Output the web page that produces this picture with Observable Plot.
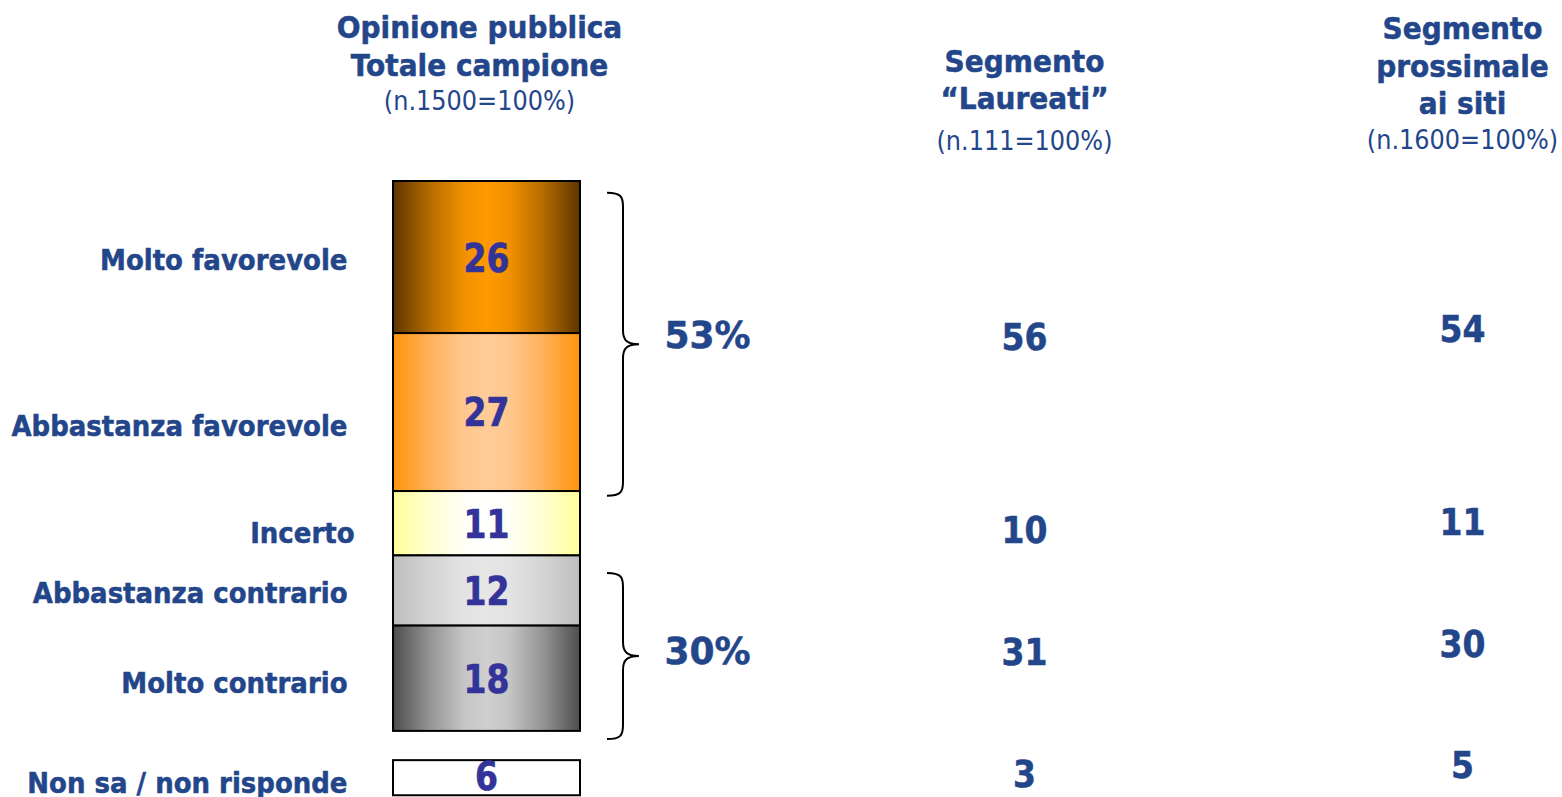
<!DOCTYPE html>
<html><head><meta charset="utf-8">
<script src="https://cdn.jsdelivr.net/npm/d3@7"></script>
<script src="https://cdn.jsdelivr.net/npm/@observablehq/plot@0.6"></script>
<style>html,body{margin:0;padding:0;background:#fff;overflow:hidden}</style>
</head><body><div id="chart"></div>
<script>
// ---------- data ----------
const categories = ["Molto favorevole", "Abbastanza favorevole", "Incerto", "Abbastanza contrario", "Molto contrario", "Non sa / non risponde"];
const totale = [26, 27, 11, 12, 18, 6];
const groups = ["Favorevoli", "Incerto", "Contrari", "Non sa"];
const groupMembers = [[0, 1], [2], [3, 4], [5]];
const groupTotale = [53, 11, 30, 6];
const laureati = [56, 10, 31, 3];
const siti = [54, 11, 30, 5];
const bracketGroups = [0, 2];
const headerTotale = ["Opinione pubblica", "Totale campione"];
const subTotale = "(n.1500=100%)";
const headerLaureati = ["Segmento", "\u201cLaureati\u201d"];
const subLaureati = "(n.111=100%)";
const headerSiti = ["Segmento", "prossimale", "ai siti"];
const subSiti = "(n.1600=100%)";

// ---------- layout & style ----------
const W = 1562, H = 797;
const barTopPx = 181, pxPerUnit = 5.85, gapBeforeLast = 5;
const colX = {labels: 347, barL: 393, barR: 580, barC: 486, braceL: 607, braceM: 623, braceT: 639, pct: 664, laureati: 1024, siti: 1462, totHead: 479};
// [edge colour, centre colour] of each segment's horizontal gradient
const gradColors = [
  ["#5c3600", "#ff9900"],
  ["#ff930c", "#ffcc99"],
  ["#ffff99", "#ffffff"],
  ["#bdbdbd", "#e6e6e6"],
  ["#4d4d4d", "#cfcfcf"],
  ["#ffffff", "#ffffff"]
];
// pixel nudges relative to the centre of each segment / group
const labelNudge = [[0, 3], [0, 14], [7, 10], [0, 2.5], [0, 5], [0, 6]];
const barNumNudge = [2, 1, 1.5, 1.5, 2, -1];
const braceInset = [[2, 0.8], [3, 1.4]];
const pctNudge = [-1, 8.5];
const laureatiNudge = [1, 7.5, 9.5, -3.5];
const sitiNudge = [-7, -0.5, 1.5, -12.5];
const navy = "#23468a", numBlue = "#333399";
const font = "DejaVu Sans, Verdana, sans-serif";

// ---------- derived ----------
let acc = 0;
const segs = categories.map((c, i) => {
  if (i === categories.length - 1) acc += gapBeforeLast;
  const s = {i, cat: c, value: totale[i], y1: acc, y2: acc + totale[i], yc: acc + totale[i] / 2};
  acc += totale[i];
  return s;
});
const grp = groups.map((g, k) => {
  const m = groupMembers[k];
  const y1 = segs[m[0]].y1, y2 = segs[m[m.length - 1]].y2;
  return {k, g, y1, y2, yc: (y1 + y2) / 2, tot: groupTotale[k], lau: laureati[k], sit: siti[k]};
});
const px = (v) => v / pxPerUnit; // pixel nudge expressed in y units

const defsMark = () => {
  const defs = d3.create("svg:defs");
  gradColors.forEach(([edge, centre], i) => {
    const mix = d3.interpolateRgb(edge, centre);
    const stops = [[0, edge], [0.2, mix(0.55)], [0.38, mix(0.92)], [0.5, centre], [0.62, mix(0.92)], [0.8, mix(0.55)], [1, edge]];
    const g = defs.append("linearGradient").attr("id", "grad" + i).attr("x1", 0).attr("x2", 1).attr("y1", 0).attr("y2", 0);
    stops.forEach(([o, c]) => g.append("stop").attr("offset", o).attr("stop-color", c));
  });
  return defs.node();
};

const braceMark = (index, scales) => {
  const g = d3.create("svg:g").attr("fill", "none").attr("stroke", "#000").attr("stroke-width", 2);
  bracketGroups.forEach((k, b) => {
    const d = grp[k];
    const y0 = scales.y(d.y1 + braceInset[b][0]), y1 = scales.y(d.y2 + braceInset[b][1]);
    const ym = (y0 + y1) / 2, r = 14;
    const x0 = scales.x(colX.braceL), xm = scales.x(colX.braceM), xt = scales.x(colX.braceT);
    g.append("path").attr("d",
      `M${x0},${y0} C${xm - 2},${y0} ${xm},${y0 + 4} ${xm},${y0 + r} L${xm},${ym - r} C${xm},${ym - 4} ${xm + 4},${ym} ${xt},${ym} C${xm + 4},${ym} ${xm},${ym + 4} ${xm},${ym + r} L${xm},${y1 - r} C${xm},${y1 - 4} ${xm - 2},${y1} ${x0},${y1}`);
  });
  return g.node();
};

const boldStyle = {fontWeight: "bold", stroke: navy, strokeWidth: 0.5};
const headerLines = (lines, x, tops, opts) => lines.map((line, i) => Plot.text([line], {
  x: () => x, frameAnchor: "top", dy: tops[i], text: d => d,
  lineAnchor: "middle", textAnchor: "middle", fill: navy, fontFamily: font, ariaDescription: "stretch-1.08", ...opts
}));

const chart = Plot.plot({
  width: W, height: H,
  margin: 0,
  x: {type: "linear", domain: [0, W], range: [0, W], axis: null},
  y: {type: "linear", domain: [-barTopPx / pxPerUnit, (H - barTopPx) / pxPerUnit], range: [0, H], axis: null},
  style: {fontFamily: font, background: "#fff", overflow: "visible"},
  marks: [
    defsMark,
    ...segs.map(s => Plot.rect([s], {
      x1: () => colX.barL, x2: () => colX.barR, y1: "y1", y2: "y2",
      fill: `url(#grad${s.i})`, stroke: "#000", strokeWidth: 2
    })),
    Plot.text(segs, {x: () => colX.barC, y: d => d.yc + px(barNumNudge[d.i]), text: d => String(d.value), fill: numBlue, stroke: numBlue, strokeWidth: 0.6, fontSize: 33, fontWeight: "bold", lineAnchor: "middle", ariaDescription: "stretch-1.2"}),
    Plot.text(segs, {x: d => colX.labels + labelNudge[d.i][0], y: d => d.yc + px(labelNudge[d.i][1]), text: "cat", textAnchor: "end", fill: navy, fontSize: 26, lineAnchor: "middle", ariaDescription: "stretch-1.1", ...boldStyle}),
    braceMark,
    Plot.text(bracketGroups.map(k => grp[k]), {x: () => colX.pct, y: d => d.yc + px(pctNudge[bracketGroups.indexOf(d.k)]), text: d => d.tot + "%", textAnchor: "start", fill: navy, fontSize: 36, lineAnchor: "middle", ariaDescription: "stretch-1.04", ...boldStyle}),
    Plot.text(grp, {x: () => colX.laureati, y: d => d.yc + px(laureatiNudge[d.k]), text: d => String(d.lau), fill: navy, fontSize: 33, lineAnchor: "middle", ariaDescription: "stretch-1.14", ...boldStyle}),
    Plot.text(grp, {x: () => colX.siti, y: d => d.yc + px(sitiNudge[d.k]), text: d => String(d.sit), fill: navy, fontSize: 33, lineAnchor: "middle", ariaDescription: "stretch-1.14", ...boldStyle}),
    ...headerLines(headerTotale, colX.totHead, [28, 66], {fontSize: 28, ...boldStyle}),
    ...headerLines([subTotale], colX.totHead, [101], {fontSize: 24}),
    ...headerLines(headerLaureati, colX.laureati, [62, 99], {fontSize: 28, ...boldStyle}),
    ...headerLines([subLaureati], colX.laureati, [141], {fontSize: 24}),
    ...headerLines(headerSiti, colX.siti, [29, 67, 104], {fontSize: 28, ...boldStyle}),
    ...headerLines([subSiti], colX.siti, [140], {fontSize: 24})
  ]
});

// vertical stretch of the Verdana-like lettering (the reference type is taller than DejaVu)
d3.select(chart).selectAll("g[aria-description^='stretch-']").each(function () {
  const f = +this.getAttribute("aria-description").split("-")[1];
  d3.select(this).selectAll("text").each(function () {
    const t = this.getAttribute("transform");
    if (t) this.setAttribute("transform", t + ` scale(1,${f})`);
  });
});
document.getElementById("chart").appendChild(chart);
</script>
</body></html>
